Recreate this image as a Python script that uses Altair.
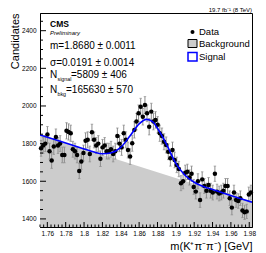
import altair as alt
import pandas as pd
import numpy as np

# ---------------- data ----------------
BIN_LO = 1.752      # left edge of first bin (GeV)
BIN_W = 0.00231     # bin width (GeV)
counts = [1775, 1790, 1800, 1848, 1760, 1710, 1785, 1835, 1790, 1800,
          1740, 1740, 1868, 1862, 1855, 1770, 1760, 1740, 1655, 1705,
          1750, 1815, 1820, 1745, 1860, 1820, 1790, 1800, 1720, 1780,
          1790, 1760, 1760, 1770, 1745, 1760, 1840, 1800, 1780, 1855,
          1820, 1766, 1731, 1802, 1873, 1917, 1961, 1996, 1943, 2005,
          1961, 1890, 1970, 1917, 1926, 1900, 1855, 1840, 1810, 1793,
          1757, 1722, 1766, 1713, 1687, 1665, 1590, 1600, 1645, 1650,
          1620, 1640, 1570, 1545, 1600, 1500, 1610, 1575, 1550, 1580,
          1550, 1540, 1640, 1545, 1535, 1540, 1550, 1575, 1575, 1510,
          1460, 1540, 1500, 1495, 1510, 1445, 1435, 1440, 1530, 1540]

curve_x = [1.752, 1.76, 1.78, 1.80, 1.81, 1.82, 1.83, 1.84, 1.85, 1.86,
           1.868, 1.875, 1.88, 1.89, 1.90, 1.91, 1.92, 1.93, 1.94, 1.95,
           1.96, 1.97, 1.983]
curve_y = [1846, 1834, 1803, 1772, 1757, 1746, 1752, 1780, 1840, 1905,
           1929, 1915, 1882, 1795, 1695, 1632, 1595, 1572, 1556, 1540,
           1524, 1509, 1489]

bkg_x = [1.752, 1.983]
bkg_y = [1846, 1489]

x_major = [1.76, 1.78, 1.8, 1.82, 1.84, 1.86, 1.88, 1.9, 1.92, 1.94, 1.96, 1.98]
x_minor = [1.752, 1.756, 1.764, 1.768, 1.772, 1.776, 1.784, 1.788, 1.792, 1.796,
           1.804, 1.808, 1.812, 1.816, 1.824, 1.828, 1.832, 1.836, 1.844, 1.848,
           1.852, 1.856, 1.864, 1.868, 1.872, 1.876, 1.884, 1.888, 1.892, 1.896,
           1.904, 1.908, 1.912, 1.916, 1.924, 1.928, 1.932, 1.936, 1.944, 1.948,
           1.952, 1.956, 1.964, 1.968, 1.972, 1.976]
y_major = [1400, 1600, 1800, 2000, 2200, 2400]
y_minor = [1450, 1500, 1550, 1650, 1700, 1750, 1850, 1900, 1950,
           2050, 2100, 2150, 2250, 2300, 2350, 2450]

# ---------------- build ----------------
W, H = 212, 214
FONT = "Liberation Sans"
GRAY = "#cccccc"
ERR = "#8c8c8c"
BLUE = "#0000ff"

centers = [BIN_LO + BIN_W * (i + 0.5) for i in range(len(counts))]
df = pd.DataFrame({"m": centers, "n": counts})
df["lo"] = df["n"] - np.sqrt(df["n"])
df["hi"] = df["n"] + np.sqrt(df["n"])

xs = alt.Scale(domain=[1.752, 1.983], nice=False, zero=False)
ys = alt.Scale(domain=[1357, 2494], nice=False, zero=False)

x_axis = alt.Axis(values=x_major, format="~g", tickSize=0, labelFontSize=6.5,
                  labelPadding=3, labelFont=FONT, labelColor="black",
                  title="m(K⁺π⁻π⁻) [GeV]", titleFont=FONT, titleFontSize=11,
                  titleFontWeight="normal", titleColor="black",
                  titleAlign="right", titleX=W, titleY=22,
                  titleBaseline="alphabetic", grid=False,
                  domainColor="black")
y_axis = alt.Axis(values=y_major, format="d", tickSize=0, labelFontSize=6.5,
                  labelPadding=4, labelFont=FONT, labelColor="black",
                  title="Candidates", titleFont=FONT, titleFontSize=11,
                  titleFontWeight="normal", titleColor="black",
                  titleAngle=270, titleAlign="right", titleBaseline="top",
                  titleX=-31, titleY=0, grid=False, domainColor="black")


def X(f):
    return alt.X(f, scale=xs, axis=x_axis)


def Y(f):
    return alt.Y(f, scale=ys, axis=y_axis)


bkg = alt.Chart(pd.DataFrame({"x": bkg_x, "y": bkg_y})).mark_area(
    color=GRAY, opacity=1, clip=True).encode(
    x=X("x:Q"), y=Y("y:Q"), y2=alt.datum(1357))

base = alt.Chart(df)
bars = base.mark_rule(color=ERR, strokeWidth=1).encode(
    x=X("m:Q"), y=Y("lo:Q"), y2="hi:Q")
cap_lo = base.mark_tick(orient="horizontal", size=2.5, thickness=1, color=ERR).encode(
    x=X("m:Q"), y=Y("lo:Q"))
cap_hi = base.mark_tick(orient="horizontal", size=2.5, thickness=1, color=ERR).encode(
    x=X("m:Q"), y=Y("hi:Q"))
pts = base.mark_circle(color="black", size=20, opacity=1).encode(
    x=X("m:Q"), y=Y("n:Q"))

line = alt.Chart(pd.DataFrame({"cx": curve_x, "cy": curve_y})).mark_line(
    color=BLUE, strokeWidth=1.6, interpolate="monotone", clip=True).encode(
    x=X("cx:Q"), y=Y("cy:Q"))

# inward ROOT-style ticks
ymaj = alt.Chart(pd.DataFrame({"v": y_major})).mark_rule(color="black").encode(
    y=Y("v:Q"), x=alt.value(0), x2=alt.value(6))
ymin = alt.Chart(pd.DataFrame({"v": y_minor})).mark_rule(color="black").encode(
    y=Y("v:Q"), x=alt.value(0), x2=alt.value(3))
xmaj = alt.Chart(pd.DataFrame({"v": x_major})).mark_rule(color="black").encode(
    x=X("v:Q"), y=alt.value(H), y2=alt.value(H - 5))
xmin = alt.Chart(pd.DataFrame({"v": x_minor})).mark_rule(color="black").encode(
    x=X("v:Q"), y=alt.value(H), y2=alt.value(H - 2.5))

one = pd.DataFrame({"a": [0]})


def txt(s, x, y, size, weight="normal", style="normal", align="left"):
    return alt.Chart(one).mark_text(
        text=s, font=FONT, fontSize=size, fontWeight=weight, fontStyle=style,
        align=align, baseline="alphabetic", color="black").encode(
        x=alt.value(x), y=alt.value(y))


notes = [
    txt("19.7 fb⁻¹ (8 TeV)", W, -1, 6, align="right"),
    txt("CMS", 10, 13.5, 8.5, weight="bold"),
    txt("Preliminary", 10, 22, 6, style="italic"),
    txt("m=1.8680 ± 0.0011", 10, 36, 10),
    txt("σ=0.0191 ± 0.0014", 10, 52.5, 10),
    txt("N", 10, 65.3, 10),
    txt("signal", 17.5, 67.8, 5.3),
    txt("=5809 ± 406", 31, 65.3, 10),
    txt("N", 10, 80.3, 10),
    txt("bkg", 17.5, 82.8, 5.3),
    txt("=165630 ± 570", 26, 80.3, 10),
    txt("Data", 159, 22.3, 9.5),
    txt("Background", 159, 33.8, 9.5),
    txt("Signal", 159, 46.8, 9.5),
]
leg_dot = alt.Chart(one).mark_circle(color="black", size=16, opacity=1).encode(
    x=alt.value(152.5), y=alt.value(19))
leg_bkg = alt.Chart(one).mark_rect(fill=GRAY, stroke="black", strokeWidth=1).encode(
    x=alt.value(148), x2=alt.value(157), y=alt.value(26.5), y2=alt.value(34.5))
leg_sig = alt.Chart(one).mark_rect(fill="white", stroke=BLUE, strokeWidth=1.5).encode(
    x=alt.value(148), x2=alt.value(157), y=alt.value(39.5), y2=alt.value(48))

chart = alt.layer(bkg, bars, cap_lo, cap_hi, pts, line, ymaj, ymin, xmaj, xmin,
                  leg_dot, leg_bkg, leg_sig, *notes).properties(
    width=W, height=H,
    padding={"left": 32, "top": 5, "right": 6, "bottom": 26},
    autosize=alt.AutoSizeParams(type="none"),
    background="white",
).configure_view(stroke="black", strokeWidth=1)

chart.save("out.html", embed_options={"renderer": "svg", "actions": False})
